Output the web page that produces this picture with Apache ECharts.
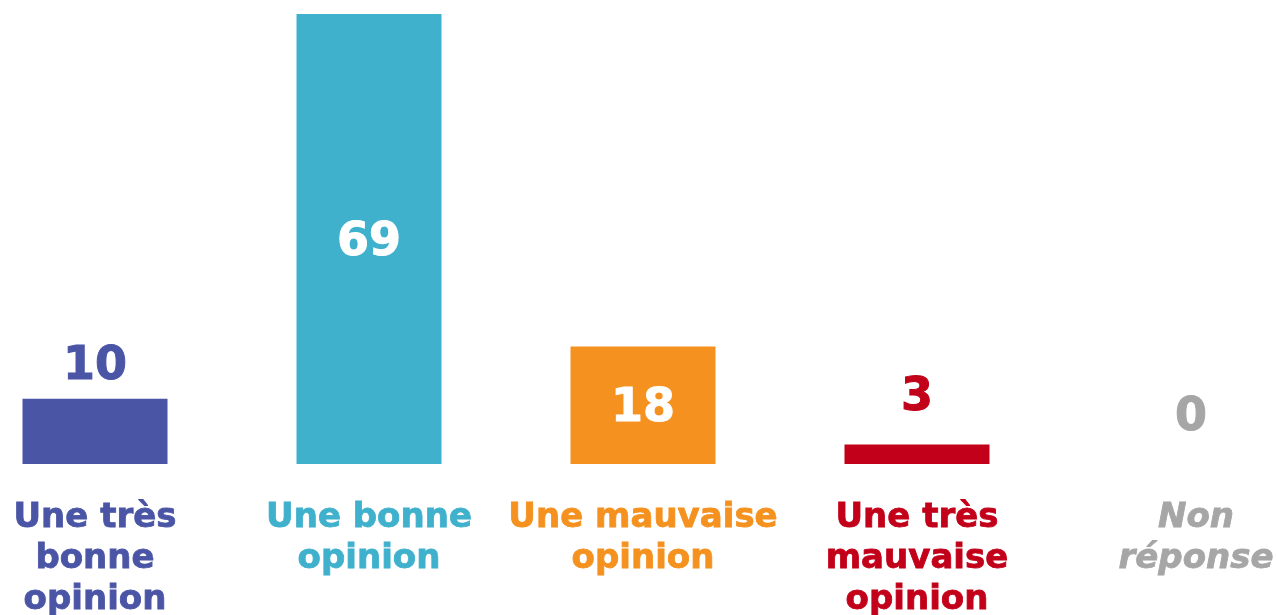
<!DOCTYPE html>
<html>
<head>
<meta charset="utf-8">
<script src="https://cdn.jsdelivr.net/npm/echarts@6/dist/echarts.min.js"></script>
<style>
  html, body { margin: 0; padding: 0; background: #fff; }
  #chart { width: 1277px; height: 615px; }
</style>
</head>
<body>
<div id="chart"></div>
<script>
// data
var categories = [
  'Une très\nbonne\nopinion',
  'Une bonne\nopinion',
  'Une mauvaise\nopinion',
  'Une très\nmauvaise\nopinion',
  'Non\nréponse'
]
var values = [10, 69, 18, 3, 0]
var colors = ['#4A55A5', '#40B1CD', '#F5911E', '#C20019', '#A6A6A6']
var labelInside = [false, true, true, false, false]

var chart = echarts.init(document.getElementById('chart'))

chart.setOption({
  animation: false,
  grid: {
    left: -42,
    right: -51,
    top: 14,
    bottom: 151,
    outerBoundsMode: 'none',
    containLabel: false
  },
  xAxis: {
    type: 'category',
    data: categories.map(function (c, i) {
      return {
        value: c,
        textStyle: {
          color: colors[i],
          textBorderColor: colors[i],
          textBorderWidth: 0.8,
          fontStyle: i === 4 ? 'italic' : 'normal',
          padding: i === 4 ? [0, 0, 0, 10] : 0
        }
      }
    }),
    axisLine: { show: false },
    axisTick: { show: false },
    axisLabel: {
      interval: 0,
      margin: 34,
      fontFamily: 'DejaVu Sans',
      fontWeight: 'bold',
      fontSize: 34,
      lineHeight: 41
    }
  },
  yAxis: {
    type: 'value',
    min: 0,
    max: 69,
    show: false,
    splitLine: { show: false }
  },
  series: [
    {
      type: 'bar',
      barWidth: 145,
      data: values.map(function (v, i) {
        var c = labelInside[i] ? '#fff' : colors[i]
        return {
          value: v,
          itemStyle: { color: colors[i] },
          label: {
            show: true,
            position: labelInside[i] ? 'inside' : 'top',
            distance: i === 0 ? 9 : 23,
            offset: labelInside[i] ? [0, 4] : [0, 0],
            color: c,
            textBorderColor: c,
            textBorderWidth: 1
          }
        }
      }),
      label: {
        fontFamily: 'DejaVu Sans',
        fontWeight: 'bold',
        fontSize: 46
      }
    }
  ]
})
</script>
</body>
</html>
